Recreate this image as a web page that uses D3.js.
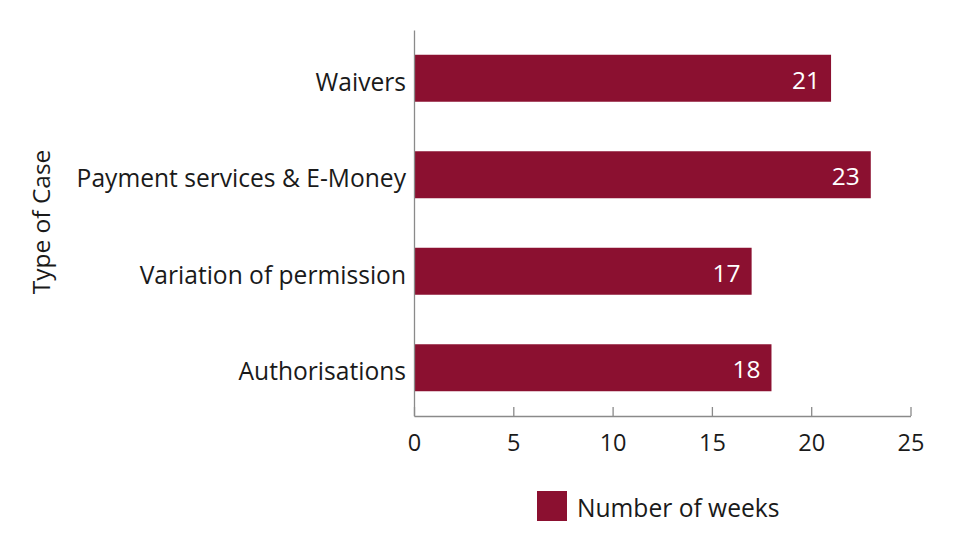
<!DOCTYPE html>
<html><head><meta charset="utf-8">
<script src="https://cdn.jsdelivr.net/npm/d3@7"></script>
<style>html,body{margin:0;padding:0;background:#fff;}svg{display:block;}</style>
</head><body>
<svg id="c" width="962" height="548"></svg>
<script>
const categories = ["Waivers", "Payment services & E-Money", "Variation of permission", "Authorisations"];
const weeks = [21, 23, 17, 18];
const xTicks = [0, 5, 10, 15, 20, 25];
const seriesName = "Number of weeks";
const yTitle = "Type of Case";

const svg = d3.select("#c");
const font = "'Open Sans', sans-serif";
const barColor = "#8b1030";
const axisColor = "#8a8a8a";
const textColor = "#1a1a1a";

const x = d3.scaleLinear().domain([0, 25]).range([414, 910.5]);
const y = d3.scaleBand().domain(categories).range([30, 416]).paddingInner(0.513).paddingOuter(0.2565);

// bars
svg.append("g").selectAll("rect").data(categories).join("rect")
  .attr("x", x(0)).attr("y", d => y(d))
  .attr("width", (d, i) => x(weeks[i]) - x(0))
  .attr("height", y.bandwidth())
  .attr("fill", barColor);

// value labels
svg.append("g").selectAll("text").data(categories).join("text")
  .attr("x", (d, i) => x(weeks[i]) - 11)
  .attr("y", d => y(d) + y.bandwidth() / 2)
  .attr("dy", "0.42em")
  .attr("text-anchor", "end")
  .attr("fill", "#fff")
  .style("font-family", font).style("font-size", "24.5px")
  .text((d, i) => weeks[i]);

// x axis
const xAxis = svg.append("g").attr("transform", "translate(0,416)")
  .call(d3.axisBottom(x).tickValues(xTicks).tickSizeInner(-9).tickSizeOuter(0).tickPadding(18));
xAxis.select(".domain").attr("stroke", axisColor).attr("stroke-width", 1.3);
xAxis.selectAll(".tick line").attr("stroke", axisColor).attr("stroke-width", 1.3);
xAxis.selectAll(".tick text").attr("fill", textColor)
  .style("font-family", font).style("font-size", "23.5px").attr("dy", "0.71em");

// y axis
const yAxis = svg.append("g").attr("transform", "translate(414,0)")
  .call(d3.axisLeft(y).tickSize(0).tickPadding(8));
yAxis.select(".domain").attr("stroke", axisColor).attr("stroke-width", 1.3);
yAxis.selectAll(".tick text").attr("fill", textColor).attr("dy", "0.5em")
  .style("font-family", font).style("font-size", "24.6px");

// y title
svg.append("text")
  .attr("transform", "translate(50,222) rotate(-90)")
  .attr("text-anchor", "middle")
  .attr("fill", textColor)
  .style("font-family", font).style("font-size", "24.5px")
  .text(yTitle);

// legend
const lg = svg.append("g").attr("transform", "translate(537,491)");
lg.append("rect").attr("width", 30).attr("height", 30).attr("fill", barColor);
lg.append("text").attr("x", 40).attr("y", 26)
  .attr("fill", textColor)
  .style("font-family", font).style("font-size", "24.6px")
  .text(seriesName);
</script>
</body></html>
